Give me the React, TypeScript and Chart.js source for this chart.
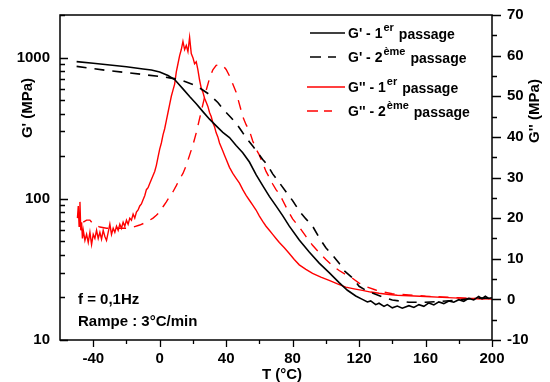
import React, { useEffect, useRef } from "react";
import { Chart, registerables } from "chart.js";

Chart.register(...registerables);

// ---- Data ----
const T_G1 = [-50, -40, -30, -20, -10, -5, 0, 5, 9, 14, 18, 22, 26, 30, 34, 38, 42, 46, 50, 54, 58, 62, 66, 70, 74, 78, 84, 90, 96, 102, 108, 113, 118, 122, 125, 127, 130, 132, 135, 137, 140, 143, 146, 150, 153, 156, 159, 162, 165, 168, 171, 174, 177, 180, 183, 186, 189, 192, 194, 196, 198, 200];
const G1 = [935, 910, 885, 860, 830, 815, 790, 745, 698, 600, 529, 470, 414, 366, 328, 295, 271, 238, 212, 182, 148, 124, 104, 89, 76, 64, 51, 42, 35, 30, 25.5, 22.5, 20.5, 19.4, 18.6, 18.9, 17.8, 18.2, 17.3, 17.8, 16.9, 17.4, 16.8, 17.5, 17.0, 17.8, 17.3, 18.3, 17.7, 18.6, 18.1, 18.9, 18.5, 19.3, 18.8, 19.7, 19.2, 20.3, 19.6, 20.4, 19.7, 19.9];

const T_G2 = [-50, -40, -30, -20, -10, 0, 6, 12, 16, 20, 25, 30, 35, 39, 43, 47, 50, 53, 56, 59, 62, 65, 68, 72, 76, 80, 84, 88, 92, 96, 100, 104, 108, 111, 116, 120, 124, 128, 134, 140, 150, 160, 170, 180, 190, 200];
const G2 = [865, 835, 805, 783, 758, 735, 718, 698, 672, 644, 598, 547, 480, 420, 375, 330, 293, 262, 236, 212, 190, 172, 150, 130, 112, 97, 82, 72, 64, 53, 45, 40, 35, 31, 27.5, 24, 22.5, 21.5, 20.2, 19.2, 18.5, 18.5, 18.8, 19.2, 19.8, 19.8];

const T_R1 = [-49.5, -49, -48.5, -48, -47.5, -47, -46.5, -46, -45, -44, -43, -42, -41, -40, -39, -38, -37, -36, -35, -34, -33, -32, -31, -30, -29, -28, -27, -26, -25, -24, -23, -22, -21, -20, -19, -18, -17, -16, -15, -14, -13, -12, -11, -10, -9, -8, -7, -6, -5, -4, -3, -2, -1, 0, 1, 2, 3, 4, 5, 6, 7, 8, 9, 10, 11, 12, 13, 14, 15, 16, 17, 18, 19, 20, 21, 22, 23, 24, 25, 26, 27, 28, 29, 30, 31, 32, 33, 34, 35, 36, 37, 38, 39, 40, 42, 44, 46, 48, 50, 52, 54, 56, 58, 60, 62, 64, 66, 68, 70, 72, 75, 78, 81, 84, 88, 92, 97, 102, 107, 112, 117, 122, 127, 132, 138, 143, 150, 160, 170, 180, 190, 200];
const R1 = [20, 23, 18, 24, 17, 19, 15, 17, 14.5, 16, 14, 16.5, 13.5, 16, 15, 17, 15, 16.5, 14.8, 17, 15.5, 14.5, 16.5, 18.5, 16, 17.5, 16.5, 18, 17, 18.5, 17.5, 19, 18, 19.5, 18.5, 20, 19.5, 21, 20, 21.5, 22, 23, 23.5, 24.5, 25.5, 27, 27.5, 28.5, 29.5, 30.5, 31.5, 33, 35, 37, 38.5, 40.5, 42, 44, 46, 48, 50, 51.5, 53, 56, 58, 60, 61.5, 63.5, 61.5, 62.5, 61, 64.5, 60.5, 59.5, 58, 58.5, 56.5, 54, 52, 51, 49.5, 48.5, 47.5, 46, 45, 43.5, 42.5, 41, 40, 38.5, 37.5, 36.5, 35.5, 34.5, 32.5, 31, 29.8, 28.6, 27, 25.6, 24.4, 23.2, 22, 20.5, 19.2, 18, 17, 16, 15, 14, 12.7, 11.3, 9.8, 8.5, 7.4, 6.4, 5.5, 4.7, 3.8, 3, 2.6, 2.2, 1.8, 1.5, 1.2, 1, 0.9, 0.7, 0.5, 0.3, 0.2, 0.1];

const T_R2 = [-46, -44, -42, -40, -36, -32, -28, -24, -20, -16, -12, -8, -4, -2, 0, 2, 4, 6, 8, 10, 12, 14, 16, 18, 20, 22, 24, 26, 28, 30, 32, 34, 36, 38, 40, 42, 44, 46, 48, 50, 52, 54, 56, 58, 60, 62, 64, 66, 68, 70, 72, 74, 77, 80, 84, 88, 92, 96, 100, 104, 108, 112, 116, 120, 125, 130, 135, 140, 150, 160, 170, 180, 190, 200];
const R2 = [19, 19.5, 19.5, 18.5, 17.8, 17.5, 17.5, 17.5, 17.5, 17.8, 18.3, 19, 20, 20.7, 21.5, 22.8, 24, 25.3, 26.5, 28, 29.6, 31, 33, 35.5, 38, 41, 44.5, 48, 51.5, 54.4, 56.5, 57.6, 57.8, 57.6, 56.6, 55, 53, 51, 48, 45, 43, 41.5, 39, 37, 35.5, 33.5, 31.5, 30, 28.4, 27, 26, 24.4, 22, 19.8, 17.8, 15.5, 13.3, 11.5, 9.8, 8.3, 7.1, 6.1, 5.2, 4, 3, 2.3, 1.8, 1.4, 1.1, 0.8, 0.6, 0.4, 0.2, 0.1];

const X_TICKS = [-40, 0, 40, 80, 120, 160, 200];
const Y_LEFT_TICKS = [10, 100, 1000];
const Y_RIGHT_TICKS = [-10, 0, 10, 20, 30, 40, 50, 60, 70];

const LEGEND = [
  { main: "G' - 1", sup: "er", rest: "passage", color: "#000000", dash: [] as number[] },
  { main: "G' - 2", sup: "ème", rest: "passage", color: "#000000", dash: [11, 7] },
  { main: "G'' - 1", sup: "er", rest: "passage", color: "#ff0000", dash: [] as number[] },
  { main: "G'' - 2", sup: "ème", rest: "passage", color: "#ff0000", dash: [11, 6] },
];

const FONT = '"Liberation Sans", Arial, sans-serif';

const pts = (xs: number[], ys: number[]) => xs.map((x, i) => ({ x, y: ys[i] }));

const decor = {
  id: "decor",
  afterDraw(chart: any) {
    const { ctx, chartArea } = chart;
    const { left, right, top, bottom } = chartArea;
    const x = chart.scales.x;
    const y = chart.scales.y;
    const y1 = chart.scales.y1;
    ctx.save();
    ctx.strokeStyle = "#000";
    ctx.lineWidth = 1.5;
    ctx.strokeRect(left, top, right - left, bottom - top);

    ctx.lineWidth = 1.3;
    ctx.beginPath();
    for (let t = -40; t <= 200; t += 20) {
      const px = Math.round(x.getPixelForValue(t)) + 0.5;
      const len = t % 40 === 0 ? 7 : 4;
      ctx.moveTo(px, bottom);
      ctx.lineTo(px, bottom + len);
    }
    for (const k of [10, 100, 1000]) {
      for (let m = 1; m <= 9; m++) {
        const v = k * m;
        if (v > 2000) continue;
        const py = Math.round(y.getPixelForValue(v)) + 0.5;
        const len = m === 1 ? 8 : 5;
        ctx.moveTo(left, py);
        ctx.lineTo(left + len, py);
      }
    }
    for (let v = -10; v <= 70; v += 5) {
      const py = Math.round(y1.getPixelForValue(v)) + 0.5;
      const len = v % 10 === 0 ? 9 : 5;
      ctx.moveTo(right, py);
      ctx.lineTo(right + len, py);
    }
    ctx.stroke();

    // axis titles
    ctx.fillStyle = "#000";
    ctx.font = `bold 15px ${FONT}`;
    ctx.textAlign = "center";
    ctx.textBaseline = "middle";
    ctx.fillText("T (°C)", 282, 375);
    ctx.save();
    ctx.translate(28, 108);
    ctx.rotate(-Math.PI / 2);
    ctx.fillText("G' (MPa)", 0, 0);
    ctx.restore();
    ctx.save();
    ctx.translate(535, 111);
    ctx.rotate(-Math.PI / 2);
    ctx.fillText("G'' (MPa)", 0, 0);
    ctx.restore();

    // annotations
    ctx.textAlign = "left";
    ctx.fillText("f = 0,1Hz", 78, 300);
    ctx.fillText("Rampe : 3°C/min", 78, 322);

    // legend
    const rows = [33, 57, 87, 111];
    LEGEND.forEach((item, i) => {
      const cy = rows[i];
      ctx.strokeStyle = item.color;
      ctx.lineWidth = 1.6;
      ctx.setLineDash(item.dash);
      ctx.beginPath();
      const x0 = item.color === "#000000" ? 310 : 307;
      const x1 = item.dash.length ? (item.color === "#000000" ? 336 : 332) : 345;
      ctx.moveTo(x0, cy);
      ctx.lineTo(x1, cy);
      ctx.stroke();
      ctx.setLineDash([]);
      ctx.textBaseline = "alphabetic";
      ctx.font = `bold 14px ${FONT}`;
      const base = cy + 5;
      let tx = 348;
      ctx.fillText(item.main, tx, base);
      tx += ctx.measureText(item.main).width + 1;
      ctx.font = `bold 11px ${FONT}`;
      ctx.fillText(item.sup, tx, base - 7);
      tx += ctx.measureText(item.sup).width + 5;
      ctx.font = `bold 14px ${FONT}`;
      ctx.fillText(item.rest, tx, base + 1);
    });
    ctx.restore();
  },
};

const zeroPad = (s: any) => {
  s.paddingTop = 0;
  s.paddingBottom = 0;
};

export default function App() {
  const ref = useRef<HTMLCanvasElement | null>(null);
  useEffect(() => {
    if (!ref.current) return;
    const tickFont = { family: FONT, size: 15, weight: "bold" as const };
    const chart = new Chart(ref.current, {
      type: "line",
      data: {
        datasets: [
          { label: "G' 1", data: pts(T_G1, G1), yAxisID: "y", borderColor: "#000", borderWidth: 1.6, pointRadius: 0, tension: 0 },
          { label: "G' 2", data: pts(T_G2, G2), yAxisID: "y", borderColor: "#000", borderWidth: 1.6, borderDash: [10, 8], pointRadius: 0, tension: 0 },
          { label: "G'' 1", data: pts(T_R1, R1), yAxisID: "y1", borderColor: "#ff0000", borderWidth: 1.4, pointRadius: 0, tension: 0 },
          { label: "G'' 2", data: pts(T_R2, R2), yAxisID: "y1", borderColor: "#ff0000", borderWidth: 1.4, borderDash: [10, 8], pointRadius: 0, tension: 0 },
        ],
      },
      options: {
        animation: false,
        responsive: true,
        maintainAspectRatio: false,
        layout: { padding: { top: 15, left: 0, right: 0, bottom: 0 } },
        plugins: { legend: { display: false }, tooltip: { enabled: false } },
        scales: {
          x: {
            type: "linear",
            min: -60,
            max: 200,
            grid: { display: false, drawTicks: false },
            border: { display: false },
            ticks: { color: "#000", font: tickFont, padding: 10, maxRotation: 0 },
            afterBuildTicks: (s: any) => { s.ticks = X_TICKS.map((v) => ({ value: v })); },
            afterFit: (s: any) => { s.height = 42; },
          },
          y: {
            type: "logarithmic",
            position: "left",
            min: 10,
            max: 2000,
            grid: { display: false, drawTicks: false },
            border: { display: false },
            ticks: { color: "#000", font: tickFont, padding: 10, callback: (v: any) => String(v) },
            afterBuildTicks: (s: any) => { s.ticks = Y_LEFT_TICKS.map((v) => ({ value: v })); },
            afterFit: (s: any) => { s.width = 60; zeroPad(s); },
          },
          y1: {
            type: "linear",
            position: "right",
            min: -10,
            max: 70,
            grid: { display: false, drawTicks: false },
            border: { display: false },
            ticks: { color: "#000", font: tickFont, padding: 15 },
            afterBuildTicks: (s: any) => { s.ticks = Y_RIGHT_TICKS.map((v) => ({ value: v })); },
            afterFit: (s: any) => { s.width = 58; zeroPad(s); },
          },
        },
      },
      plugins: [decor],
    });
    return () => chart.destroy();
  }, []);
  return (
    <div style={{ position: "fixed", left: 0, top: 0, width: 550, height: 382, background: "#fff" }}>
      <canvas ref={ref} />
    </div>
  );
}
